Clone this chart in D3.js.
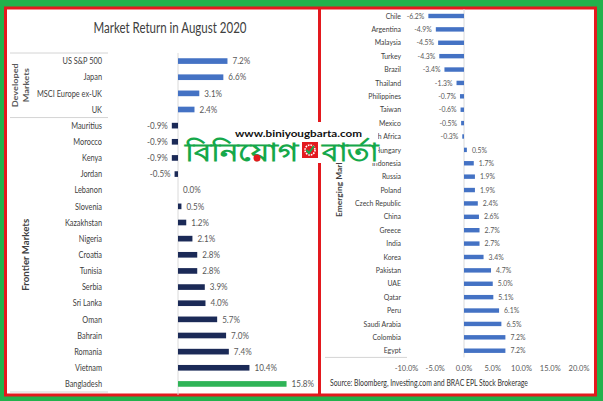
<!DOCTYPE html>
<html>
<head>
<meta charset="utf-8">
<script src="https://cdn.jsdelivr.net/npm/d3@7"></script>
<style>
  body { margin: 0; background: #22b24c; }
  svg { display: block; }
  text { font-family: "Lato", sans-serif; }
</style>
</head>
<body>
<script>
var width = 603,
    height = 401;

// developed + frontier (left panel)
var devNames = ["US S&P 500", "Japan", "MSCI Europe ex-UK", "UK"];
var devValues = [7.2, 6.6, 3.1, 2.4];
var frontNames = ["Mauritius", "Morocco", "Kenya", "Jordan", "Lebanon", "Slovenia", "Kazakhstan", "Nigeria",
  "Croatia", "Tunisia", "Serbia", "Sri Lanka", "Oman", "Bahrain", "Romania", "Vietnam", "Bangladesh"];
var frontValues = [-0.9, -0.9, -0.9, -0.5, 0.0, 0.5, 1.2, 2.1, 2.8, 2.8, 3.9, 4.0, 5.7, 7.0, 7.4, 10.4, 15.8];

// emerging (right panel)
var emNames = ["Chile", "Argentina", "Malaysia", "Turkey", "Brazil", "Thailand", "Philippines", "Taiwan", "Mexico",
  "South Africa", "Hungary", "Indonesia", "Russia", "Poland", "Czech Republic", "China", "Greece", "India", "Korea",
  "Pakistan", "UAE", "Qatar", "Peru", "Saudi Arabia", "Colombia", "Egypt"];
var emValues = [-6.2, -4.9, -4.5, -4.3, -3.4, -1.3, -0.7, -0.6, -0.5, -0.3, 0.5, 1.7, 1.9, 1.9, 2.4, 2.6, 2.7, 2.7, 3.4,
  4.7, 5.0, 5.1, 6.1, 6.5, 7.2, 7.2];
var emTicks = [-10, -5, 0, 5, 10, 15, 20];

var svg = d3.select("body").append("svg").attr("width", width).attr("height", height);

// white panels with red frame
svg.append("rect").attr("x", 5.5).attr("y", 8).attr("width", 590).attr("height", 387)
    .attr("fill", "#fff").attr("stroke", "#e3191e").attr("stroke-width", 3);

var fmt = function(v){ return v.toFixed(1) + "%"; };

// narrow text: the original uses a condensed font
function squeeze(sel, sx, xf, yf){
  sel.attr("transform", function(d){ return "translate(" + xf(d) + "," + yf(d) + ") scale(" + sx + ",1)"; });
}

// ---------- left panel ----------
var leftRows = devNames.map(function(n, i){ return {name: n, value: devValues[i], group: "dev"}; })
  .concat(frontNames.map(function(n, i){ return {name: n, value: frontValues[i], group: "front"}; }));

var xL = d3.scaleLinear().domain([0, 16]).range([178, 178 + 16 * 6.87]);
var yL = d3.scaleBand().domain(leftRows.map(function(d){ return d.name; }))
    .range([53, 392]).paddingInner(0.65).paddingOuter(0.325);

var left = svg.append("g");

left.append("text").attr("x", 170).attr("y", 33).attr("text-anchor", "middle")
    .attr("font-size", 14.5).attr("fill", "#404040")
    .attr("textLength", 153).attr("lengthAdjust", "spacingAndGlyphs")
    .text("Market Return in August 2020");

// category separators
var sepY = [53, yL(frontNames[0]) - yL.step() * yL.paddingInner() / 2, 392];
left.selectAll(".sep").data(sepY).enter().append("line")
    .attr("x1", 10).attr("x2", 108).attr("y1", function(d){ return d; }).attr("y2", function(d){ return d; })
    .attr("stroke", "#d4d4d4").attr("stroke-width", 1);

left.append("line").attr("x1", xL(0)).attr("x2", xL(0)).attr("y1", 53).attr("y2", 395)
    .attr("stroke", "#dadada").attr("stroke-width", 1);

left.selectAll(".bar").data(leftRows).enter().append("rect")
    .attr("x", function(d){ return Math.min(xL(0), xL(d.value)); })
    .attr("y", function(d){ return yL(d.name); })
    .attr("width", function(d){ return Math.abs(xL(d.value) - xL(0)); })
    .attr("height", yL.bandwidth())
    .attr("fill", function(d){
      if (d.name == "Bangladesh") return "#2fb457";
      return d.group == "dev" ? "#4472c4" : "#1b2a57";
    });

left.selectAll(".cat").data(leftRows).enter().append("text")
    .attr("dy", "0.35em").attr("text-anchor", "end").attr("font-size", 9).attr("fill", "#404040")
    .text(function(d){ return d.name; })
    .call(squeeze, 0.82, function(){ return 102; }, function(d){ return yL(d.name) + yL.bandwidth() / 2; });

left.selectAll(".val").data(leftRows).enter().append("text")
    .attr("dy", "0.35em").attr("text-anchor", function(d){ return d.value < 0 ? "end" : "start"; })
    .attr("font-size", 9).attr("fill", "#595959")
    .text(function(d){ return fmt(d.value); })
    .call(squeeze, 0.9, function(d){ return d.value < 0 ? xL(d.value) - 4 : xL(d.value) + 5; },
      function(d){ return yL(d.name) + yL.bandwidth() / 2; });

var devMid = (sepY[0] + sepY[1]) / 2,
    frontMid = (sepY[1] + sepY[2]) / 2;
left.append("text").attr("transform", "translate(18," + devMid + ") rotate(-90)")
    .attr("text-anchor", "middle").attr("font-size", 8).attr("font-weight", "bold").attr("fill", "#595959")
    .attr("textLength", 44).attr("lengthAdjust", "spacingAndGlyphs")
    .text("Developed");
left.append("text").attr("transform", "translate(29," + devMid + ") rotate(-90)")
    .attr("text-anchor", "middle").attr("font-size", 8).attr("font-weight", "bold").attr("fill", "#595959")
    .attr("textLength", 34).attr("lengthAdjust", "spacingAndGlyphs")
    .text("Markets");
left.append("text").attr("transform", "translate(28.5," + frontMid + ") rotate(-90)")
    .attr("text-anchor", "middle").attr("font-size", 8.5).attr("font-weight", "bold").attr("fill", "#404040")
    .attr("textLength", 72).attr("lengthAdjust", "spacingAndGlyphs")
    .text("Frontier Markets");

// ---------- right panel ----------
var emRows = emNames.map(function(n, i){ return {name: n, value: emValues[i]}; });

var xR = d3.scaleLinear().domain([-10, 20]).range([406.5, 579]);
var yR = d3.scaleBand().domain(emNames).range([9.3, 357.4]).paddingInner(0.67).paddingOuter(0.335);

var right = svg.append("g");

right.append("line").attr("x1", xR(0)).attr("x2", xR(0)).attr("y1", 9).attr("y2", 357.4)
    .attr("stroke", "#dadada").attr("stroke-width", 1);
right.append("line").attr("x1", 325).attr("x2", 407).attr("y1", 357.4).attr("y2", 357.4)
    .attr("stroke", "#d4d4d4").attr("stroke-width", 1);

right.selectAll(".bar").data(emRows).enter().append("rect")
    .attr("x", function(d){ return Math.min(xR(0), xR(d.value)); })
    .attr("y", function(d){ return yR(d.name); })
    .attr("width", function(d){ return Math.abs(xR(d.value) - xR(0)); })
    .attr("height", yR.bandwidth())
    .attr("fill", "#4472c4");

right.selectAll(".cat").data(emRows).enter().append("text")
    .attr("dy", "0.35em").attr("text-anchor", "end").attr("font-size", 7.5).attr("fill", "#404040")
    .text(function(d){ return d.name; })
    .call(squeeze, 0.92, function(){ return 401; }, function(d){ return yR(d.name) + yR.bandwidth() / 2; });

right.selectAll(".val").data(emRows).enter().append("text")
    .attr("dy", "0.35em").attr("text-anchor", function(d){ return d.value < 0 ? "end" : "start"; })
    .attr("font-size", 7.5).attr("fill", "#595959")
    .text(function(d){ return fmt(d.value); })
    .call(squeeze, 0.92, function(d){ return d.value < 0 ? xR(d.value) - 4 : xR(d.value) + 5; },
      function(d){ return yR(d.name) + yR.bandwidth() / 2; });

right.selectAll(".tick").data(emTicks).enter().append("text")
    .attr("x", function(d){ return xR(d); }).attr("y", 368).attr("dy", "0.35em")
    .attr("text-anchor", "middle").attr("font-size", 7.5).attr("fill", "#595959")
    .text(function(d){ return fmt(d); });

right.append("text").attr("transform", "translate(341.5,183) rotate(-90)")
    .attr("text-anchor", "middle").attr("font-size", 7.5).attr("font-weight", "bold").attr("fill", "#404040")
    .attr("textLength", 68).attr("lengthAdjust", "spacingAndGlyphs")
    .text("Emerging Markets");

right.append("text").attr("x", 330).attr("y", 386).attr("font-size", 9).attr("fill", "#333")
    .attr("textLength", 198).attr("lengthAdjust", "spacingAndGlyphs")
    .text("Source: Bloomberg, Investing.com and BRAC EPL Stock Brokerage");

// divider between the panels
svg.append("line").attr("x1", 319.5).attr("x2", 319.5).attr("y1", 8).attr("y2", 395)
    .attr("stroke", "#e3191e").attr("stroke-width", 3);

// ---------- watermark ----------
var wm = svg.append("g");
wm.append("rect").attr("x", 180).attr("y", 122).attr("width", 198).attr("height", 41).attr("fill", "#fff");
wm.append("text").attr("x", 235).attr("y", 137).attr("font-family", "DejaVu Sans").attr("font-weight", "bold")
    .attr("font-size", 10).attr("fill", "#111").attr("textLength", 127).attr("lengthAdjust", "spacingAndGlyphs")
    .text("www.biniyougbarta.com");
wm.append("text").attr("x", 185).attr("y", 161).attr("font-size", 25).attr("font-weight", "bold").attr("fill", "#15a84a")
    .attr("textLength", 113).attr("lengthAdjust", "spacingAndGlyphs")
    .text("বিনিয়োগ");
wm.append("circle").attr("cx", 257).attr("cy", 158).attr("r", 3.5).attr("fill", "#e3191e");
wm.append("rect").attr("x", 302).attr("y", 142).attr("width", 16).attr("height", 16).attr("fill", "#e3191e");
wm.append("circle").attr("cx", 310).attr("cy", 150).attr("r", 5).attr("fill", "none")
    .attr("stroke", "#fff").attr("stroke-width", 1.6).attr("stroke-dasharray", "1.6,1");
wm.append("path").attr("d", "M306.5,150 L309,153 L314,146").attr("fill", "none")
    .attr("stroke", "#15a84a").attr("stroke-width", 2);
wm.append("text").attr("x", 322).attr("y", 161).attr("font-size", 25).attr("font-weight", "bold").attr("fill", "#15a84a")
    .attr("textLength", 56).attr("lengthAdjust", "spacingAndGlyphs")
    .text("বার্তা");
</script>
</body>
</html>
